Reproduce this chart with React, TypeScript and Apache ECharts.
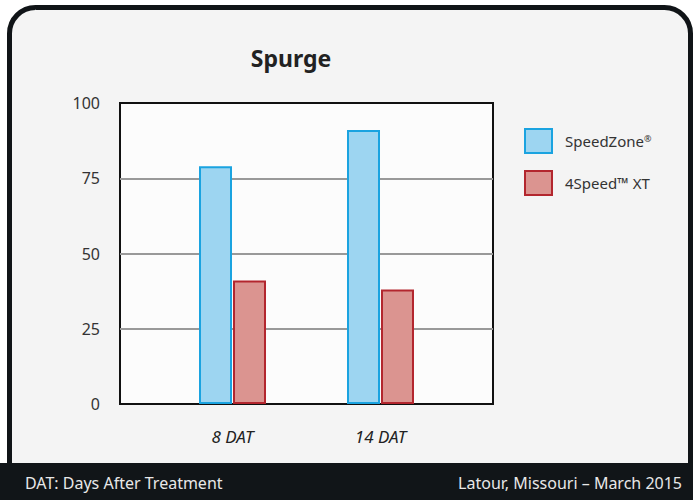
import React, { useEffect, useRef } from "react";
import * as echarts from "echarts";

const categories = ["8 DAT", "14 DAT"];
const speedZone = [79, 91];
const fourSpeed = [41, 38];
const seriesNames = ["SpeedZone®", "4Speed™ XT"];
const yMin = 0;
const yMax = 100;
const yInterval = 25;
const titleText = "Spurge";
const footLeft = "DAT: Days After Treatment";
const footRight = "Latour, Missouri – March 2015";

const FONT = "'Noto Sans', 'Open Sans', sans-serif";

export default function App() {
  const ref = useRef<HTMLDivElement>(null);
  useEffect(() => {
    if (!ref.current) return;
    const chart = echarts.init(ref.current, undefined, { renderer: "svg" });
    const option: any = {
      animation: false,
      textStyle: { fontFamily: FONT },
      graphic: [
        {
          type: "rect",
          z: -10,
          silent: true,
          shape: { x: 9.5, y: 7.5, width: 681, height: 520, r: 26 },
          style: { fill: "#f4f4f4", stroke: "#101417", lineWidth: 5 },
        },
        {
          type: "rect",
          z: -9,
          silent: true,
          shape: { x: 0, y: 463, width: 693, height: 37 },
          style: { fill: "#111518" },
        },
        {
          type: "text",
          z: 5,
          x: 291,
          y: 46,
          style: {
            text: titleText,
            fill: "#222",
            font: `bold 23px ${FONT}`,
            textAlign: "center",
            textVerticalAlign: "top",
          },
        },
        {
          type: "text",
          z: 5,
          x: 25,
          y: 483,
          style: {
            text: footLeft,
            fill: "#e8e8e8",
            font: `16px ${FONT}`,
            textAlign: "left",
            textVerticalAlign: "middle",
          },
        },
        {
          type: "text",
          z: 5,
          x: 682,
          y: 483,
          style: {
            text: footRight,
            fill: "#e8e8e8",
            font: `16px ${FONT}`,
            textAlign: "right",
            textVerticalAlign: "middle",
          },
        },
      ],
      legend: {
        orient: "vertical",
        left: 524,
        top: 128,
        padding: 0,
        itemWidth: 27,
        itemHeight: 24,
        itemGap: 16,
        icon: "rect",
        data: seriesNames,
        formatter: (name: string) => name.replace("®", "{s|®}"),
        textStyle: {
          fontSize: 15,
          color: "#333",
          fontFamily: FONT,
          padding: [0, 0, 0, 8],
          rich: {
            s: { fontSize: 9, verticalAlign: "top", color: "#333", padding: [0, 0, 6, 0] },
          },
        },
      },
      grid: [
        {
          left: 120,
          top: 103,
          width: 373,
          height: 301,
          show: true,
          borderColor: "#111",
          borderWidth: 2,
          backgroundColor: "#fcfcfc",
        },
        { left: 158.5, top: 103, width: 296, height: 301 },
      ],
      xAxis: [
        { gridIndex: 0, type: "category", data: categories, show: false },
        {
          gridIndex: 1,
          type: "category",
          data: categories,
          axisLine: { show: false },
          axisTick: { show: false },
          axisLabel: {
            fontStyle: "italic",
            fontSize: 17,
            color: "#222",
            margin: 24,
            fontFamily: FONT,
          },
        },
      ],
      yAxis: [
        {
          gridIndex: 0,
          type: "value",
          min: yMin,
          max: yMax,
          interval: yInterval,
          axisLine: { show: false },
          axisTick: { show: false },
          axisLabel: { fontSize: 16, color: "#333", margin: 20, fontFamily: FONT },
          splitLine: {
            show: true,
            showMinLine: false,
            showMaxLine: false,
            lineStyle: { color: "#999", width: 2 },
          },
        },
        {
          gridIndex: 1,
          type: "value",
          min: yMin,
          max: yMax,
          interval: yInterval,
          show: false,
          splitLine: { show: false },
        },
      ],
      series: [
        {
          name: seriesNames[0],
          type: "bar",
          xAxisIndex: 1,
          yAxisIndex: 1,
          data: speedZone,
          barWidth: 33,
          barGap: "3%",
          itemStyle: { color: "#9dd5f1", borderColor: "#1aa3e0", borderWidth: 2 },
        },
        {
          name: seriesNames[1],
          type: "bar",
          xAxisIndex: 1,
          yAxisIndex: 1,
          data: fourSpeed,
          barWidth: 33,
          barGap: "3%",
          itemStyle: { color: "#db9490", borderColor: "#b3262e", borderWidth: 2 },
        },
      ],
    };
    chart.setOption(option);
    return () => chart.dispose();
  }, []);
  return (
    <div
      ref={ref}
      style={{ position: "absolute", left: 0, top: 0, width: 693, height: 500 }}
    />
  );
}
